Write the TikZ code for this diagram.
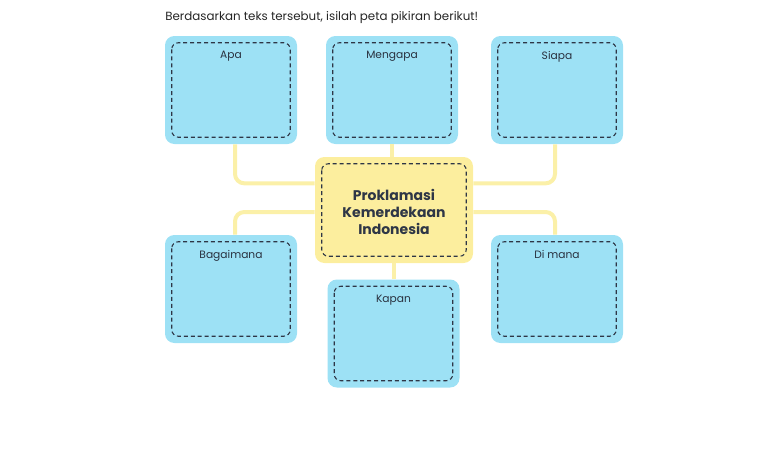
\documentclass[tikz,border=0pt]{standalone}
\usepackage{fontspec}
\setmainfont{Poppins}
\usetikzlibrary{positioning}
\definecolor{biru}{HTML}{9DE1F5}
\definecolor{kuning}{HTML}{FCEE9E}
\definecolor{garis}{HTML}{FBF0A8}
\definecolor{gelap}{HTML}{2E3646}
\tikzstyle{tanya}=[fill=biru,rounded corners=7pt,minimum width=99pt,minimum height=81pt,inner sep=0pt]
\tikzstyle{pusat}=[fill=kuning,rounded corners=7pt,minimum width=118.5pt,minimum height=79.5pt,inner sep=0pt,align=center,text=gelap]
\tikzstyle{tepi}=[draw=gelap,line width=0.8pt,dash pattern=on 3pt off 2.2pt,rounded corners=5pt]
\tikzstyle{link}=[draw=garis,line width=3pt,rounded corners=7pt]
\tikzstyle{judul}=[font=\fontsize{8}{9}\selectfont,text=gelap!90!black]

\begin{document}
\begin{tikzpicture}[x=0.75pt,y=-0.75pt]
      \useasboundingbox (0,0) rectangle (764,450);
      \node[anchor=west,inner sep=0pt,font=\fontsize{8.9}{10}\selectfont,text=black!85] (soal) at (165,18) {Berdasarkan teks tersebut, isilah peta pikiran berikut!};
      \node[tanya,label={[judul,anchor=north,yshift=-8pt]north:Apa}] (apa) at (231,90) {};
      \node[tanya,label={[judul,anchor=north,yshift=-8pt]north:Mengapa}] (mengapa) at (392,90) {};
      \node[tanya,label={[judul,anchor=north,yshift=-8pt]north:Siapa}] (siapa) at (557,90) {};
      \node[pusat,font=\fontsize{10.5}{13}\selectfont\bfseries] (pk) at (394,210) {\raisebox{-3pt}[\height][\depth]{\begin{tabular}{@{}c@{}}Proklamasi\\Kemerdekaan\\Indonesia\end{tabular}}};
      \node[tanya,label={[judul,anchor=north,yshift=-8pt]north:Bagaimana}] (bagaimana) at (231,289) {};
      \node[tanya,label={[judul,anchor=north,yshift=-8pt]north:Kapan}] (kapan) at (393.5,333.5) {};
      \node[tanya,label={[judul,anchor=north,yshift=-8pt]north:Di mana}] (dimana) at (557,289) {};
      \foreach \n in {apa,mengapa,siapa,pk,bagaimana,kapan,dimana}
        \draw[tepi] ([shift={(7,7)}]\n.north west) rectangle ([shift={(-7,-7)}]\n.south east);
      \draw[link] ([xshift=3pt]apa.south) |- ([yshift=20pt]pk.west);
      \draw[link] ([xshift=3pt]bagaimana.north) |- ([yshift=-1.5pt]pk.west);
      \draw[link] ([xshift=-1.5pt]siapa.south) |- ([yshift=20pt]pk.east);
      \draw[link] ([xshift=-1.5pt]dimana.north) |- ([yshift=-1.5pt]pk.east);
      \draw[link] (mengapa.south) -- (mengapa.south |- pk.north);
      \draw[link] (kapan.north) -- (kapan.north |- pk.south);
      \end{tikzpicture}
\end{document}
